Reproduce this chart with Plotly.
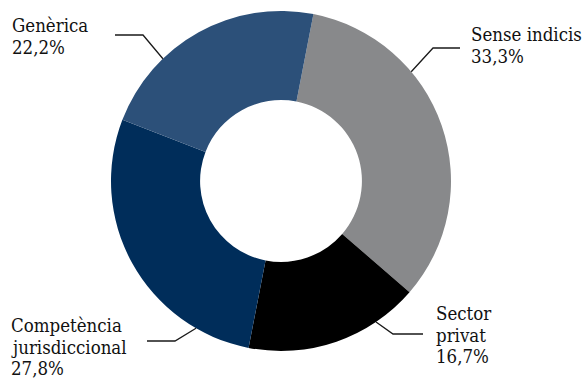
import math
import plotly.graph_objects as go

# Distribution of cases by category (percent)
categories = ["Sense indicis", "Sector privat", "Competència jurisdiccional", "Genèrica"]
shares = [33.3, 16.7, 27.8, 22.2]
share_labels = ["33,3%", "16,7%", "27,8%", "22,2%"]
colors = ["#88898b", "#000000", "#002d5a", "#2c5079"]

# Label text, line by line, for each category
label_lines = [
    ["Sense indicis", "33,3%"],
    ["Sector", "privat", "16,7%"],
    ["Competència", "jurisdiccional", "27,8%"],
    ["Genèrica", "22,2%"],
]

W, H = 587, 381
CX, CY, R = 281, 181, 170          # donut centre and outer radius in pixels
HOLE = 0.476
ROTATION = 11                      # start angle of first slice, clockwise from 12 o'clock

FONT = "DejaVu Serif Condensed, DejaVu Serif"
FONT_SIZE = 18.5
LINE_GAP = 21.5

# Leader layout: angle where the line meets the ring, elbow point, end point, text block
leaders = [
    dict(angle=50,  elbow=(433, 48),  end=(460, 48),  text_x=470, first_base=41),
    dict(angle=146, elbow=(393, 334), end=(423, 334), text_x=435, first_base=320),
    dict(angle=210, elbow=(175, 341), end=(147, 341), text_x=10,  first_base=332),
    dict(angle=316, elbow=(143, 35),  end=(115, 35),  text_x=11,  first_base=32),
]


def px(x):
    return x / W


def py(y):
    return 1 - y / H


fig = go.Figure(
    go.Pie(
        labels=categories,
        values=shares,
        marker=dict(colors=colors, line=dict(width=0)),
        hole=HOLE,
        sort=False,
        direction="clockwise",
        rotation=ROTATION,
        textinfo="none",
        hovertemplate="%{label}: %{value}%<extra></extra>",
        domain=dict(x=[px(CX - R), px(CX + R)], y=[py(CY + R), py(CY - R)]),
        showlegend=False,
    )
)

shapes = []
annotations = []
for lead, lines in zip(leaders, label_lines):
    a = math.radians(lead["angle"])
    ex, ey = CX + R * math.sin(a), CY - R * math.cos(a)
    bx, by = lead["elbow"]
    tx, ty = lead["end"]
    path = (f"M {px(ex)} {py(ey)} L {px(bx)} {py(by)} L {px(tx)} {py(ty)}")
    shapes.append(dict(type="path", xref="paper", yref="paper", path=path,
                       line=dict(color="#1a1a1a", width=1.3)))
    for i, line in enumerate(lines):
        base = lead["first_base"] + i * LINE_GAP
        annotations.append(dict(
            x=px(lead["text_x"]), y=py(base - 0.33 * FONT_SIZE),
            xref="paper", yref="paper", xanchor="left", yanchor="middle",
            text=line, showarrow=False, borderpad=0,
            font=dict(family=FONT, size=FONT_SIZE, color="#111111"),
        ))

fig.update_layout(
    width=W, height=H, autosize=False,
    margin=dict(l=0, r=0, t=0, b=0),
    paper_bgcolor="white", plot_bgcolor="white",
    font=dict(family=FONT),
    shapes=shapes, annotations=annotations,
)

fig.write_html("out.html")
